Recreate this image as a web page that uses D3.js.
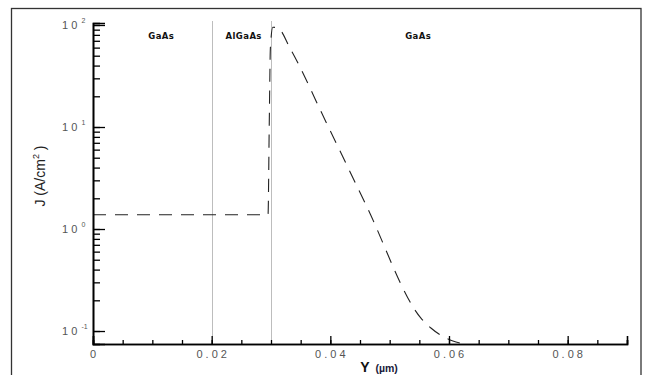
<!DOCTYPE html>
<html>
<head>
<meta charset="utf-8">
<script src="https://cdn.jsdelivr.net/npm/d3@7"></script>
<style>
  body { margin: 0; background: #fff; }
  svg { display: block; }
</style>
</head>
<body>
<svg id="chart" width="647" height="375"></svg>
<script>
// ---- data ----
const yPos = [0, 0.0295, 0.0297, 0.0299, 0.0303, 0.03117, 0.03319, 0.03943, 0.0460, 0.05527, 0.05695, 0.05914, 0.06066, 0.0622];
const jVal = [1.38, 1.38, 10, 60, 95, 93.5, 59.5, 10.7, 1.73, 0.134, 0.107, 0.0874, 0.0798, 0.0755];
const layerBounds = [0.02, 0.03];
const layerNames = ["GaAs", "AlGaAs", "GaAs"];
const layerLabelX = [0.0115, 0.0254, 0.0548];
const xTicks = [0, 0.02, 0.04, 0.06, 0.08];
const xTickLabels = ["0", "0.02", "0.04", "0.06", "0.08"];
const yTicks = [0.1, 1, 10, 100];
const yTickExps = ["-1", "0", "1", "2"];

// ---- layout ----
const svg = d3.select("#chart");
const x = d3.scaleLinear().domain([0, 0.09]).range([93, 627]);
const y = d3.scaleLog().domain([0.0746, 104.6]).range([344, 23]);

// outer frame
svg.append("rect").attr("x", 11.5).attr("y", 8.5).attr("width", 629.5).attr("height", 380)
  .attr("fill", "none").attr("stroke", "#333").attr("stroke-width", 1.3);

// layer boundaries
svg.selectAll("line.bound").data(layerBounds).enter().append("line")
  .attr("class", "bound")
  .attr("x1", d => Math.round(x(d)) + 0.5).attr("x2", d => Math.round(x(d)) + 0.5)
  .attr("y1", 21).attr("y2", 344)
  .attr("stroke", "#bdbdbd").attr("stroke-width", 1);

// layer labels
svg.selectAll("text.layer").data(layerNames).enter().append("text")
  .attr("class", "layer")
  .attr("x", (d, i) => x(layerLabelX[i])).attr("y", 38.5)
  .attr("text-anchor", "middle")
  .style("font-family", "DejaVu Sans, sans-serif").style("font-weight", "bold")
  .style("font-size", "8.5px").style("letter-spacing", "0.4px").attr("fill", "#111")
  .text(d => d);

// curve
const pts = yPos.map((d, i) => [d, jVal[i]]);
svg.append("path").datum(pts)
  .attr("d", d3.line().x(d => x(d[0])).y(d => y(d[1])).curve(d3.curveMonotoneX))
  .attr("fill", "none").attr("stroke", "#222").attr("stroke-width", 1.1)
  .attr("stroke-dasharray", "13,9");

// x axis
const xMinor = d3.range(0, 0.0901, 0.005);
const xAxisMinor = d3.axisTop(x).tickValues(xMinor).tickSize(4).tickFormat("");
const xAxisMajor = d3.axisTop(x).tickValues(xTicks).tickSize(8).tickFormat("");
const gx = svg.append("g").attr("transform", "translate(0,344)");
gx.call(xAxisMinor);
gx.append("g").call(xAxisMajor);
gx.selectAll(".domain").attr("stroke", "#000").attr("stroke-width", 1.6);
gx.selectAll(".tick line").attr("stroke", "#000").attr("stroke-width", 1.3);
svg.selectAll("text.xl").data(xTickLabels).enter().append("text")
  .attr("class", "xl")
  .attr("x", (d, i) => x(xTicks[i]) + 1.5).attr("y", 358)
  .attr("text-anchor", "middle")
  .style("font-family", "Liberation Sans, Arial, sans-serif").style("font-size", "11px")
  .style("letter-spacing", "3px").attr("fill", "#555")
  .text(d => d);

// y axis
const yMinor = [];
[0.1, 1, 10].forEach(b => { for (let k = 1; k <= 9; k++) yMinor.push(b * k); });
yMinor.push(100);
const yAxisMinor = d3.axisRight(y).tickValues(yMinor.filter(v => v >= 0.0746)).tickSize(7).tickFormat("");
const yAxisMajor = d3.axisRight(y).tickValues(yTicks).tickSize(12).tickFormat("");
const gy = svg.append("g").attr("transform", "translate(93,0)");
gy.call(yAxisMinor);
gy.append("g").call(yAxisMajor);
gy.selectAll(".domain").attr("stroke", "#000").attr("stroke-width", 1.6);
gy.selectAll(".tick line").attr("stroke", "#000").attr("stroke-width", 1.3);

svg.selectAll("text.yl").data(yTicks).enter().append("text")
  .attr("class", "yl")
  .attr("x", 62).attr("y", d => y(d) + 4)
  .style("font-family", "Liberation Sans, Arial, sans-serif").style("font-size", "11px")
  .attr("fill", "#555")
  .selectAll("tspan").data(["1", "0"]).enter().append("tspan")
  .attr("dx", (d, i) => i ? 3 : 0).text(d => d);
svg.selectAll("text.ye").data(yTicks).enter().append("text")
  .attr("class", "ye")
  .attr("x", 81.5).attr("y", d => y(d) - 2)
  .style("font-family", "Liberation Sans, Arial, sans-serif").style("font-size", "7px")
  .attr("fill", "#555")
  .text((d, i) => yTickExps[i]);

// axis titles
const yt = svg.append("text")
  .attr("transform", "translate(45,176) rotate(-90)")
  .attr("text-anchor", "middle")
  .style("font-family", "Liberation Sans, Arial, sans-serif").style("font-size", "14px")
  .attr("fill", "#222");
yt.append("tspan").text("J (A/cm");
yt.append("tspan").attr("dy", -6).style("font-size", "9px").text("2");
yt.append("tspan").attr("dy", 6).text(" )");

const xt = svg.append("text")
  .attr("x", 379).attr("y", 372)
  .attr("text-anchor", "middle")
  .style("font-family", "Liberation Sans, Arial, sans-serif").style("font-weight", "bold")
  .attr("fill", "#1a1a3a");
xt.append("tspan").style("font-size", "14px").attr("fill", "#111").text("Y");
xt.append("tspan").style("font-size", "10.5px").text("\u00a0\u00a0(\u00b5m)");
</script>
</body>
</html>
